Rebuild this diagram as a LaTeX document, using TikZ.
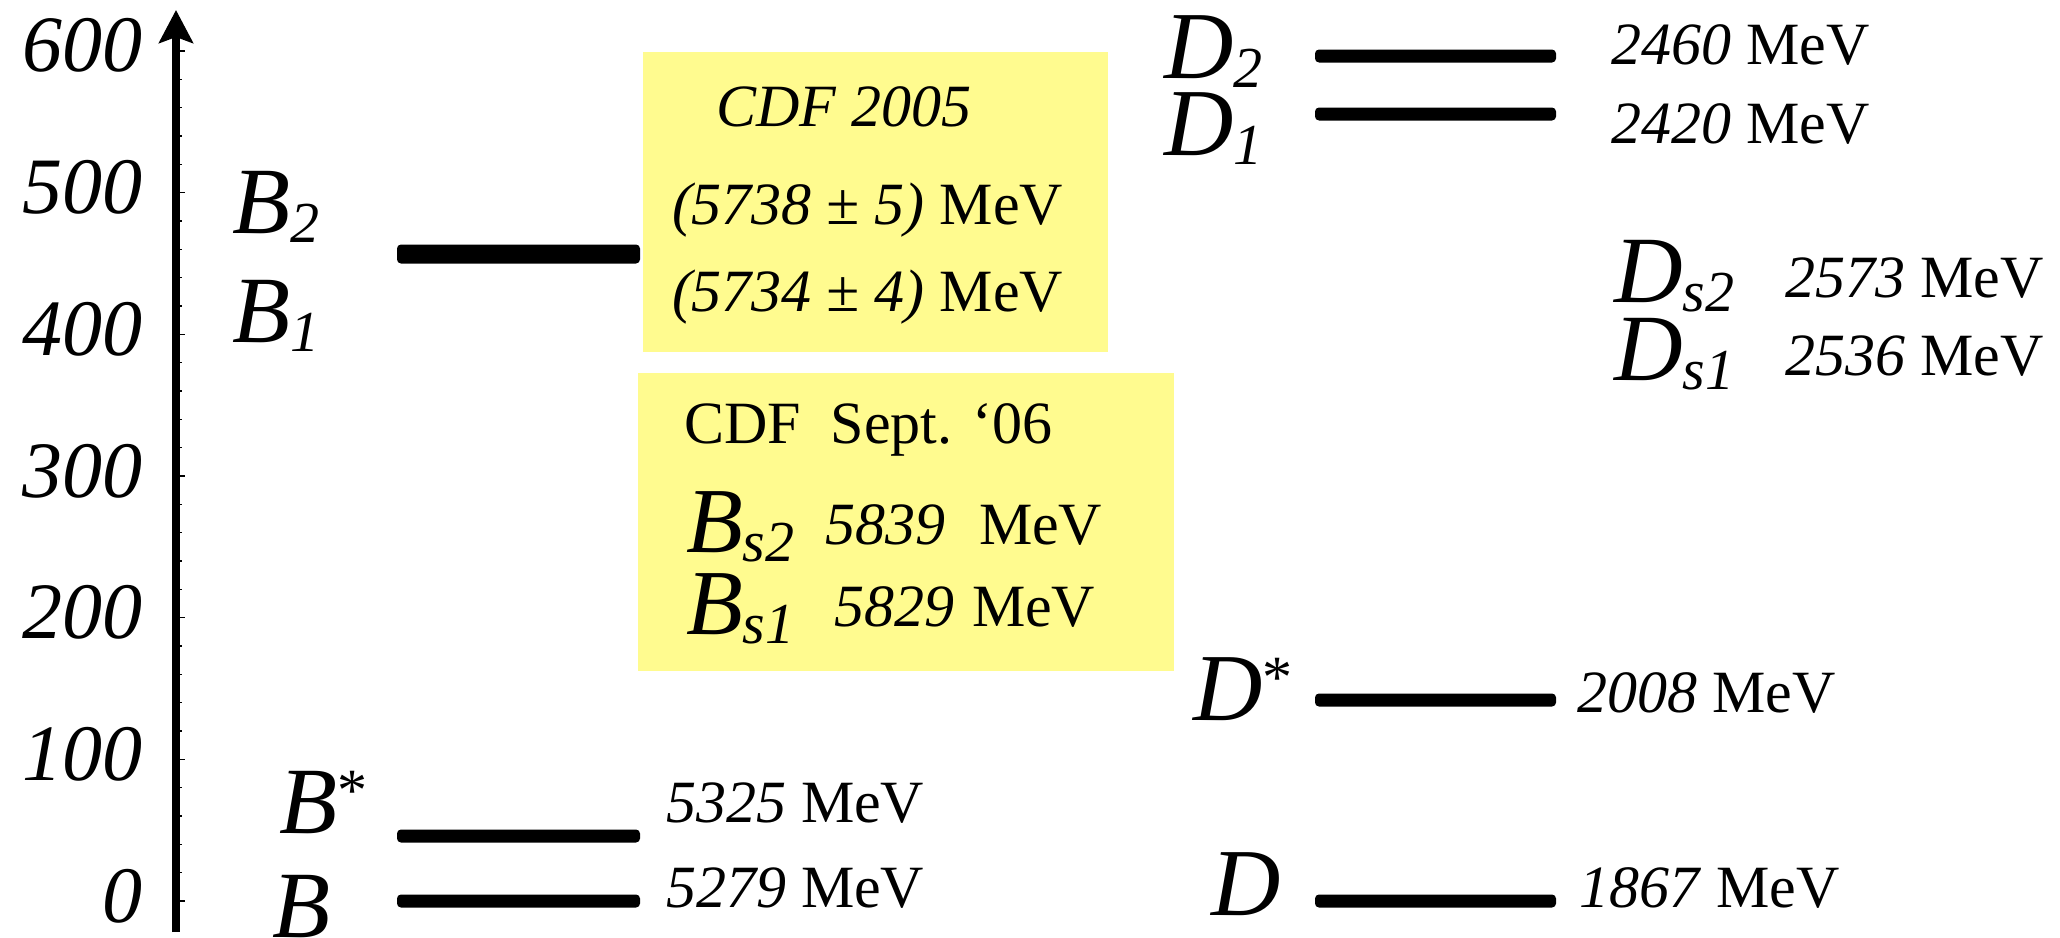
\documentclass[tikz,border=0pt]{standalone}
\usepackage{fontspec}
\setmainfont{Liberation Serif}
\usetikzlibrary{arrows.meta}
\definecolor{boxyellow}{RGB}{255,251,143}
\newcommand\fsz[1]{\fontsize{#1}{#1}\selectfont}
\newcommand\sublab[3]{{\fsz{#1}\textit{#2}}\raisebox{-9pt}{\fsz{58}\textit{#3}}}
\newcommand\starlab[2]{{\fsz{#1}\textit{#2}}\raisebox{23pt}{\fsz{60}*}}
\begin{document}
\begin{tikzpicture}[x=1pt,y=-1pt,
  txt/.style={inner sep=0pt, outer sep=0pt, anchor=base west},
  ticklab/.style={inner sep=0pt, outer sep=0pt, anchor=base east, font=\fsz{80}\itshape},
  val/.style={txt, font=\fsz{60}},
  lvl/.style={fill=black, rounded corners=4pt},
  axisline/.style={line width=8pt, -{Stealth[length=33pt, width=34pt, inset=6pt]}},
  tickline/.style={line width=1.5pt},
  yellowbox/.style={fill=boxyellow}]
\useasboundingbox (0,0) rectangle (2060,937);

% yellow boxes
\fill[yellowbox] (643,52) rectangle (1108,352);
\fill[yellowbox] (638,373) rectangle (1174,671);

% axis
\coordinate (axbot) at (176,932);
\coordinate (axtop) at (176,10);
\draw[axisline] (axbot) -- (axtop);
\foreach \v in {0,20,...,600} {
  \draw[tickline] (179,{901-1.41667*\v}) -- (182,{901-1.41667*\v});
}
\foreach \v in {0,100,...,600} {
  \draw[tickline] (179,{901-1.41667*\v}) -- (185,{901-1.41667*\v});
  \node[ticklab] (t\v) at (142,{901-1.41667*\v+21}) {\v};
}

% B levels
\fill[lvl] (397,244.5) rectangle (640,263.5);
\fill[lvl] (397,829.5) rectangle (640,842.5);
\fill[lvl] (397,894.5) rectangle (640,907.5);

\node[txt] (B2) at (232,233) {\sublab{95}{B}{2}};
\node[txt] (B1) at (232,342) {\sublab{95}{B}{1}};
\node[txt] (Bstar) at (279,833) {\starlab{95}{B}};
\node[txt] (B) at (272,937) {{\fsz{95}\textit{B}}};
\node[val] (mBstar) at (666,822) {\textit{5325} MeV};
\node[val] (mB) at (666,907) {\textit{5279} MeV};

% CDF 2005 box
\node[val] (cdf05) at (716,126) {\textit{CDF 2005}};
\node[val] (mB2) at (672,224) {\textit{(5738 ± 5)} MeV};
\node[val] (mB1) at (672,311) {\textit{(5734 ± 4)} MeV};

% CDF Sept 06 box
\node[val] (cdf06) at (684,443) {CDF\ \ Sept. ‘06};
\node[txt] (Bs2) at (686,552) {\sublab{93}{B}{s2}};
\node[val] (mBs2) at (825,544) {\textit{5839}};
\node[val] (uBs2) at (979,544) {MeV};
\node[txt] (Bs1) at (686,634) {\sublab{93}{B}{s1}};
\node[val] (mBs1) at (834,626) {\textit{5829}};
\node[val] (uBs1) at (972,626) {MeV};

% D levels
\fill[lvl] (1315,49.5) rectangle (1556,62.5);
\fill[lvl] (1315,107.5) rectangle (1556,120.5);
\fill[lvl] (1315,693.5) rectangle (1556,706.5);
\fill[lvl] (1315,894.5) rectangle (1556,907.5);

\node[txt] (D2) at (1164,78) {\sublab{96}{D}{2}};
\node[txt] (D1) at (1164,155) {\sublab{96}{D}{1}};
\node[val] (mD2) at (1611,64) {\textit{2460} MeV};
\node[val] (mD1) at (1611,143) {\textit{2420} MeV};

\node[txt] (Ds2) at (1614,302) {\sublab{95}{D}{s2}};
\node[val] (mDs2) at (1785,297) {\textit{2573} MeV};
\node[txt] (Ds1) at (1614,380) {\sublab{95}{D}{s1}};
\node[val] (mDs1) at (1785,375) {\textit{2536} MeV};

\node[txt] (Dstar) at (1193,720) {\starlab{96}{D}};
\node[val] (mDstar) at (1577,712) {\textit{2008} MeV};
\node[txt] (D) at (1211,915) {{\fsz{96}\textit{D}}};
\node[val] (mD) at (1579,907) {\textit{1867} MeV};
\end{tikzpicture}
\end{document}
